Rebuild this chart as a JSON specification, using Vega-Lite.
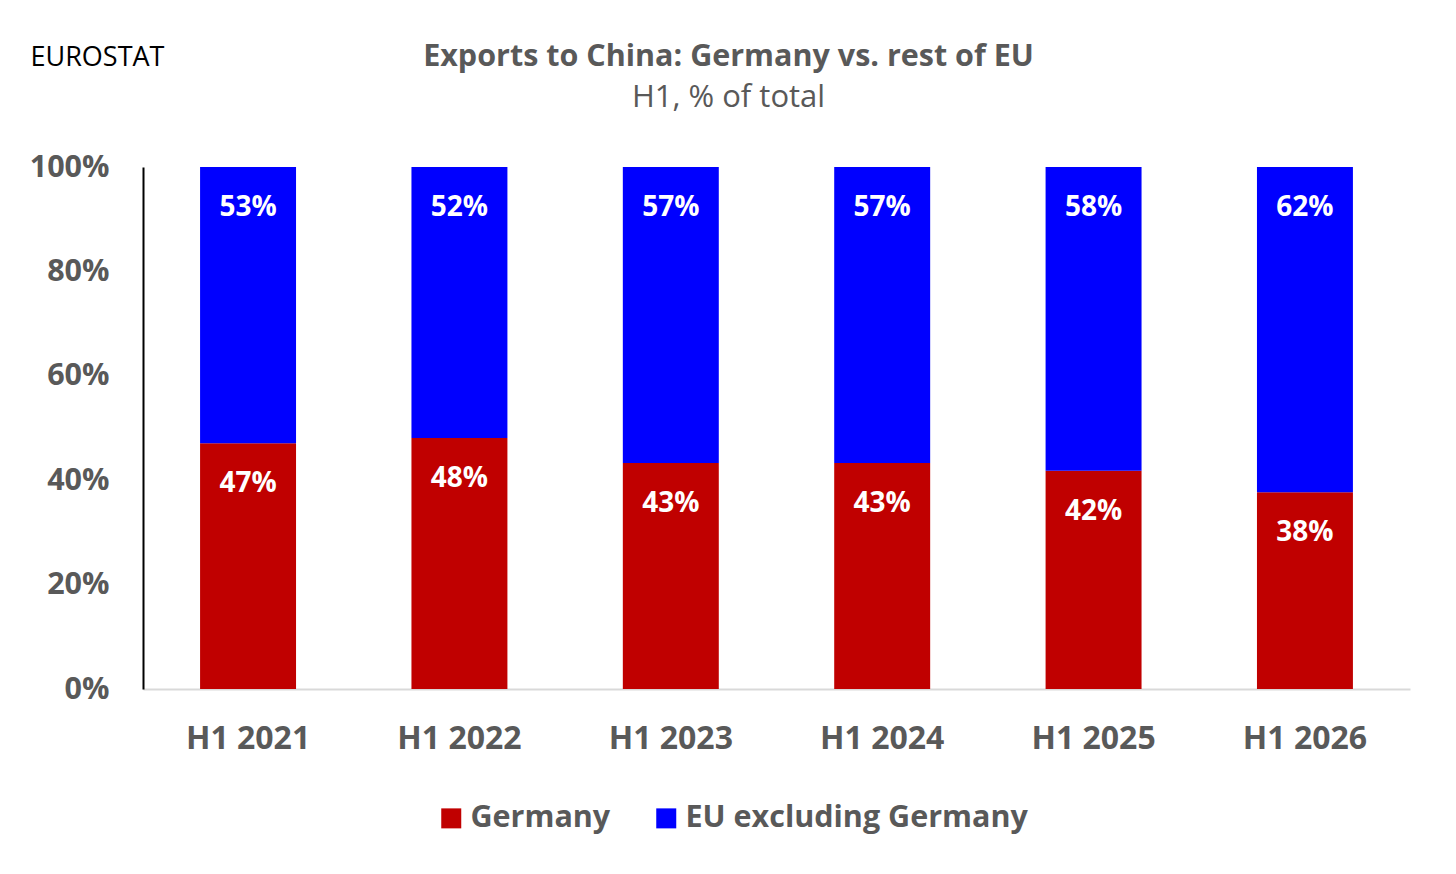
{
  "$schema": "https://vega.github.io/schema/vega-lite/v6.json",
  "width": 1267,
  "height": 522,
  "autosize": "none",
  "padding": {"left": 143, "top": 167, "right": 46, "bottom": 185},
  "background": "white",
  "title": {
    "text": "Exports to China: Germany vs. rest of EU",
    "subtitle": "H1, % of total",
    "anchor": "middle",
    "frame": "group",
    "dx": -48,
    "offset": -70,
    "font": "Open Sans",
    "fontSize": 30.5,
    "fontWeight": "bold",
    "color": "#595959",
    "subtitleFont": "Open Sans",
    "subtitleFontSize": 31,
    "subtitleColor": "#595959",
    "subtitlePadding": 11
  },
  "config": {
    "view": {"stroke": null},
    "font": "Open Sans"
  },
  "data": {
    "values": [
      {"period": "H1 2021", "region": "Germany", "ord": 1, "share": 0.471},
      {"period": "H1 2021", "region": "EU excluding Germany", "ord": 2, "share": 0.529},
      {"period": "H1 2022", "region": "Germany", "ord": 1, "share": 0.481},
      {"period": "H1 2022", "region": "EU excluding Germany", "ord": 2, "share": 0.519},
      {"period": "H1 2023", "region": "Germany", "ord": 1, "share": 0.433},
      {"period": "H1 2023", "region": "EU excluding Germany", "ord": 2, "share": 0.567},
      {"period": "H1 2024", "region": "Germany", "ord": 1, "share": 0.433},
      {"period": "H1 2024", "region": "EU excluding Germany", "ord": 2, "share": 0.567},
      {"period": "H1 2025", "region": "Germany", "ord": 1, "share": 0.418},
      {"period": "H1 2025", "region": "EU excluding Germany", "ord": 2, "share": 0.582},
      {"period": "H1 2026", "region": "Germany", "ord": 1, "share": 0.377},
      {"period": "H1 2026", "region": "EU excluding Germany", "ord": 2, "share": 0.623}
    ]
  },
  "encoding": {
    "x": {
      "field": "period",
      "type": "nominal",
      "scale": {"paddingInner": 0.546, "paddingOuter": 0.27},
      "axis": {
        "title": null,
        "labelAngle": 0,
        "labelFont": "Open Sans",
        "labelFontSize": 32,
        "labelFontWeight": "bold",
        "labelColor": "#595959",
        "labelPadding": 34,
        "ticks": false,
        "domainColor": "#D9D9D9",
        "domainWidth": 2
      }
    },
    "y": {
      "field": "share",
      "type": "quantitative",
      "stack": "zero",
      "scale": {"domain": [0, 1], "nice": false},
      "axis": {
        "values": [0, 0.2, 0.4, 0.6, 0.8, 1],
        "format": ".0%",
        "grid": false,
        "ticks": false,
        "domainColor": "black",
        "domainWidth": 2,
        "labelFont": "Open Sans",
        "labelFontSize": 30.5,
        "labelFontWeight": "bold",
        "labelColor": "#595959",
        "labelPadding": 34,
        "title": "EUROSTAT",
        "titleAngle": 0,
        "titleAlign": "left",
        "titleBaseline": "alphabetic",
        "titleX": -113,
        "titleY": -102,
        "titleFont": "Open Sans",
        "titleFontSize": 27,
        "titleFontWeight": "normal",
        "titleColor": "black"
      }
    },
    "order": {"field": "ord", "type": "quantitative"}
  },
  "layer": [
    {
      "mark": {"type": "bar"},
      "encoding": {
        "color": {
          "field": "region",
          "type": "nominal",
          "scale": {"domain": ["Germany", "EU excluding Germany"], "range": ["#C00000", "#0000FF"]},
          "legend": {
            "title": null,
            "orient": "none",
            "direction": "horizontal",
            "legendX": 293,
            "legendY": 636,
            "symbolType": "square",
            "symbolSize": 400,
            "symbolStrokeWidth": 0,
            "labelFont": "Open Sans",
            "labelFontSize": 30.5,
            "labelFontWeight": "bold",
            "labelColor": "#595959",
            "labelOffset": 4,
            "labelLimit": 600,
            "columnPadding": 40
          }
        }
      }
    },
    {
      "mark": {"type": "text", "dy": 41, "baseline": "middle", "align": "center", "font": "Open Sans", "fontSize": 28, "fontWeight": "bold", "color": "white"},
      "encoding": {
        "text": {"field": "share", "type": "quantitative", "format": ".0%"}
      }
    }
  ]
}
